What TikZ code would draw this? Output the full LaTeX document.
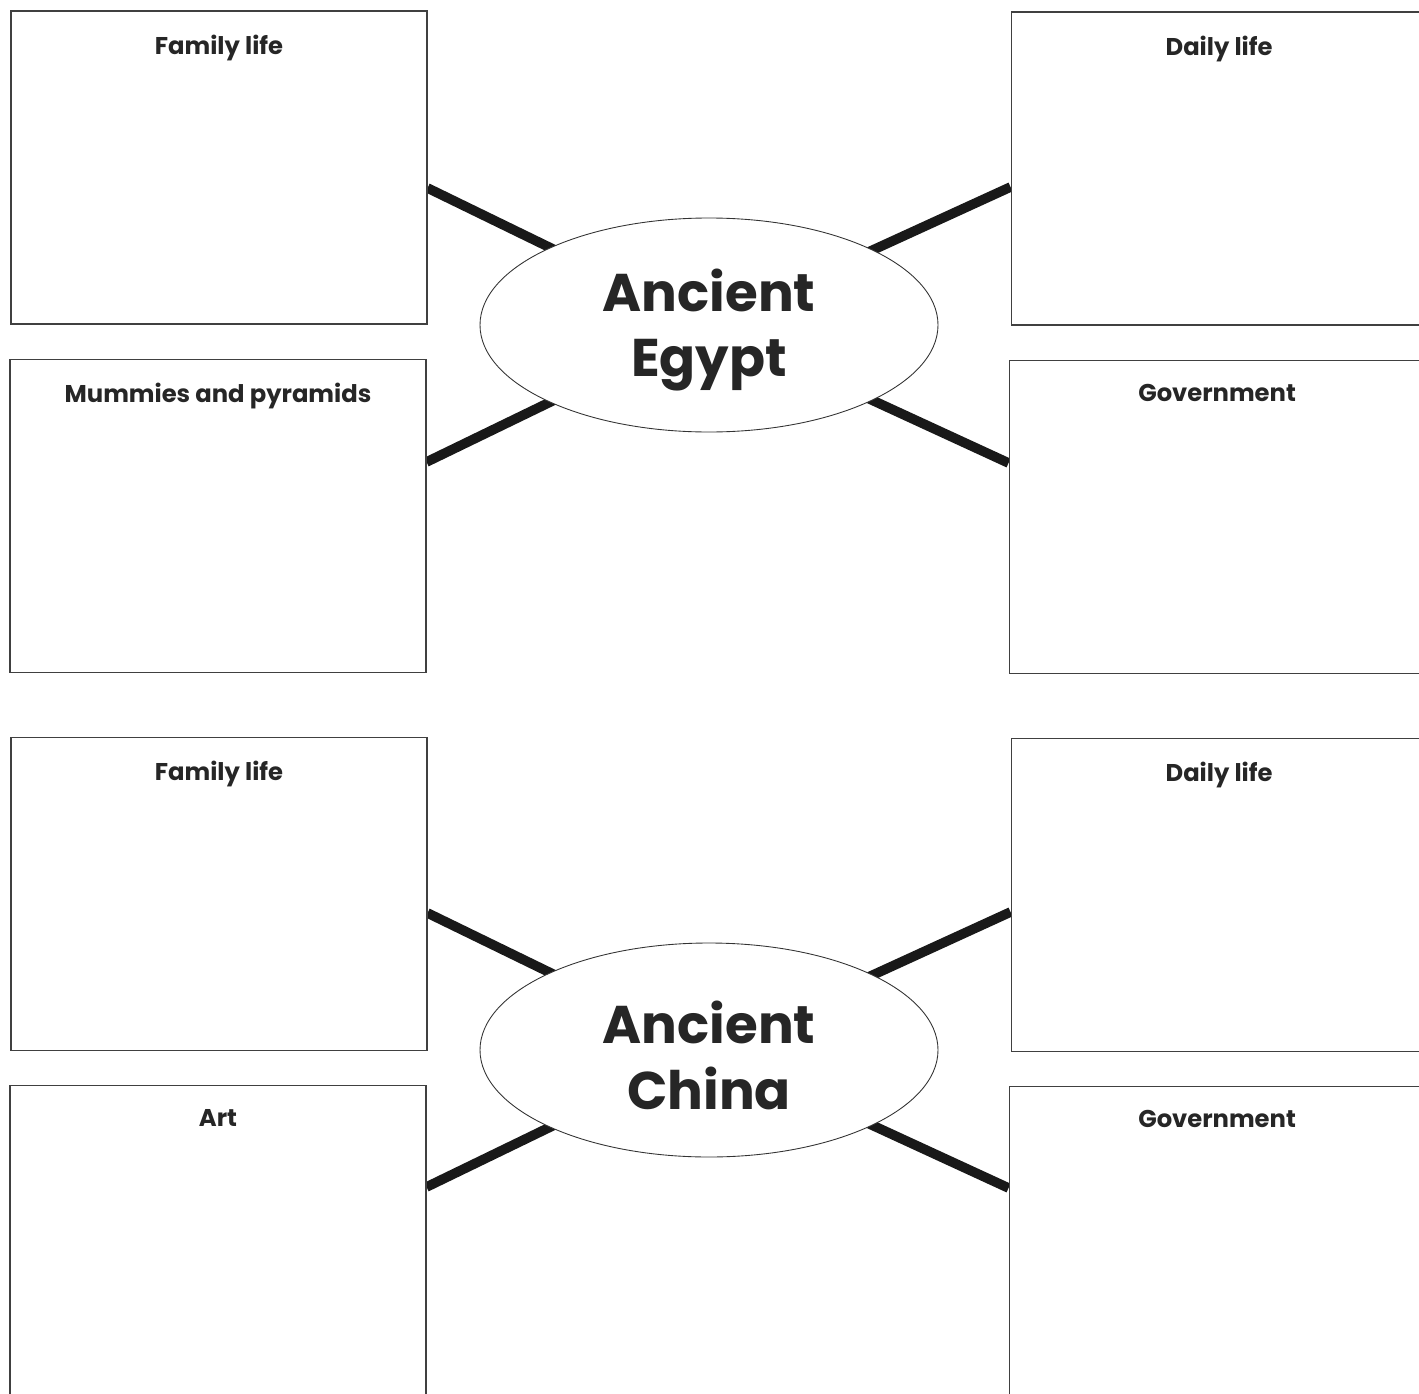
\documentclass[tikz,border=0pt]{standalone}
\usepackage{fontspec}
\setmainfont{Poppins}
\usetikzlibrary{positioning,calc,shapes.geometric,backgrounds}

\begin{document}
\begin{tikzpicture}[
    node distance=0.68cm,
    topic/.style={rectangle, draw=black!75, line width=0.6pt, fill=white, minimum width=8.32cm, minimum height=6.26cm, inner sep=0pt},
    heading/.style={font=\bfseries\fontsize{13.8}{17}\selectfont, text=black!85, inner sep=0pt, anchor=north, yshift=-0.48cm},
    civ/.style={ellipse, draw=black!80, line width=0.5pt, fill=white, minimum width=9.16cm, minimum height=4.28cm, inner sep=0pt},
    civname/.style={align=center, font=\bfseries\fontsize{30.2}{37.5}\selectfont, text=black!85, inner sep=0pt, yshift=-0.1cm},
    spoke/.style={line width=5.5pt, black!90}
]
\useasboundingbox (0,0) rectangle (28.38,-27.86);

% Ancient Egypt
\node[civ, label={[civname]center:Ancient\\Egypt}] (egypt) at (14.18,-6.5) {};

\node[topic, label={[heading]north:Family life}] (famE) at (4.38,-3.35) {};
\node[topic, below=of famE, xshift=-0.02cm, label={[heading]north:Mummies and pyramids}] (mumE) {};
\node[topic, right=11.66cm of famE, yshift=-0.02cm, label={[heading]north:Daily life}] (dayE) {};
\node[topic, below=of dayE, xshift=-0.04cm, label={[heading]north:Government}] (govE) {};

% Ancient China
\node[civ, label={[civname]center:Ancient\\China}] (china) at (14.18,-21) {};

\node[topic, below=1.28cm of mumE, xshift=0.02cm, label={[heading]north:Family life}] (famC) {};
\node[topic, below=of famC, xshift=-0.02cm, label={[heading]north:Art}] (artC) {};
\node[topic, right=11.66cm of famC, yshift=-0.02cm, label={[heading]north:Daily life}] (dayC) {};
\node[topic, below=of dayC, xshift=-0.04cm, label={[heading]north:Government}] (govC) {};

% Spokes run under the ellipses and stop at the boxes
\begin{pgfonlayer}{background}
\foreach \civ/\fam/\low/\day/\gov in {egypt/famE/mumE/dayE/govE, china/famC/artC/dayC/govC} {
    \draw[spoke] (\civ.center) -- ($(\civ.center -| \fam.east)+(0,2.74)$);
    \draw[spoke] (\civ.center) -- ($(\civ.center -| \low.east)+(0,-2.74)$);
    \draw[spoke] (\civ.center) -- ($(\civ.center -| \day.west)+(0,2.76)$);
    \draw[spoke] (\civ.center) -- ($(\civ.center -| \gov.west)+(0,-2.76)$);
}
\end{pgfonlayer}

\end{tikzpicture}
\end{document}
